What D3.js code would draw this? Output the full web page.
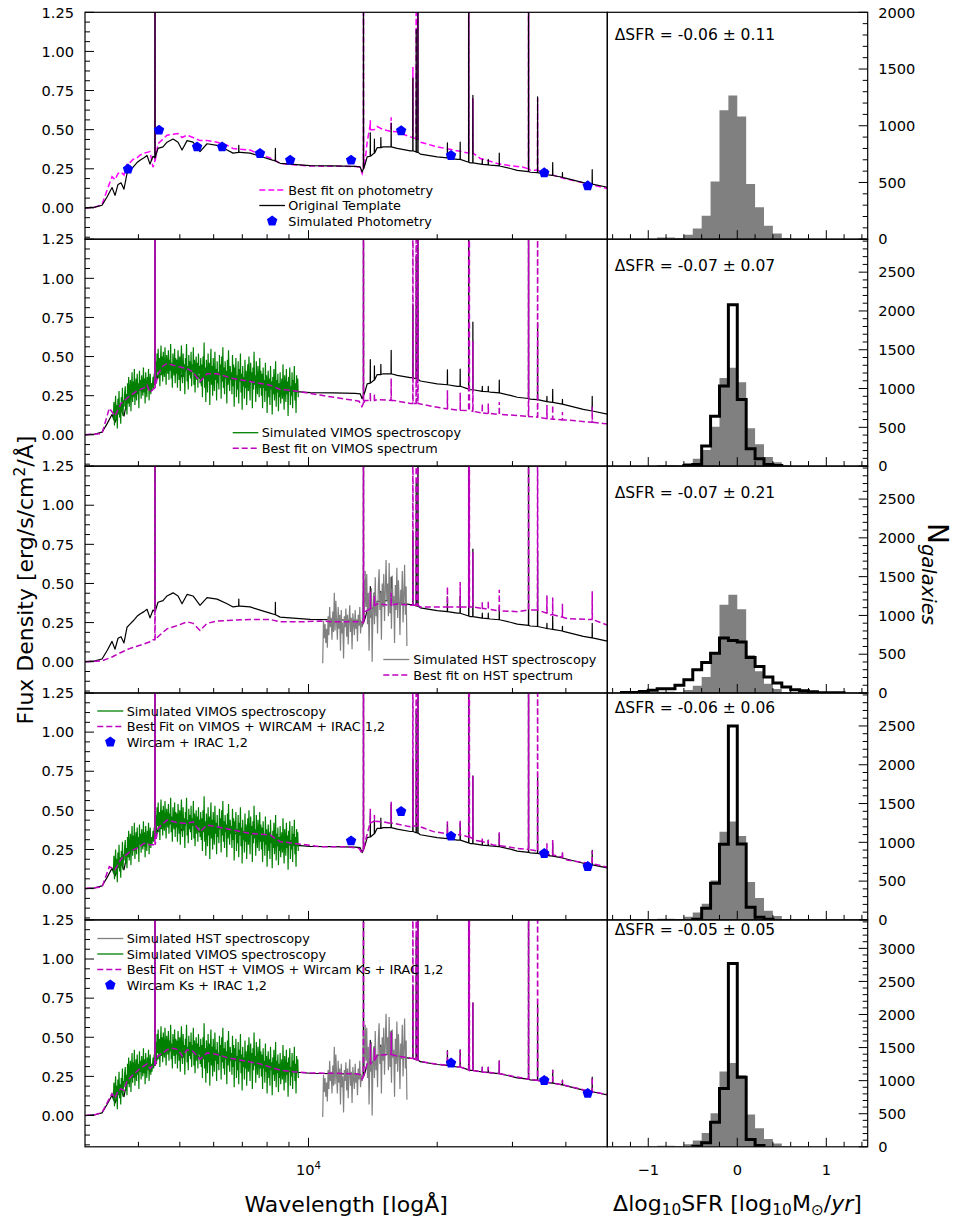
<!DOCTYPE html>
<html><head><meta charset="utf-8">
<script src="https://cdn.jsdelivr.net/npm/d3@7"></script>
<style>
body{margin:0;background:#fff}
svg{display:block}
text{font-family:"DejaVu Sans",sans-serif;fill:#000}
</style>
</head><body>
<svg id="c" width="954" height="1220"></svg>
<script>
// ---------------- DATA ----------------
const waveDomain = [3000, 50000];      // observed wavelength, Å (log axis)
const fluxDomain = [-0.2, 1.25];       // flux density
const sfrDomain = [-1.46, 1.465];      // Δlog10 SFR

const fluxTicks = [0, 0.25, 0.5, 0.75, 1.0, 1.25];
const fluxTickLabels = ["0.00", "0.25", "0.50", "0.75", "1.00", "1.25"];
const waveMajorTicks = [10000];
const waveMinorTicks = [4000, 5000, 6000, 7000, 8000, 9000, 20000, 30000, 40000];
const sfrMajorTicks = [-1, 0, 1];
const sfrMajorLabels = ["\u22121", "0", "1"];
const sfrMinorTicks = [-1.4, -1.2, -0.8, -0.6, -0.4, -0.2, 0.2, 0.4, 0.6, 0.8, 1.2, 1.4];

// original template: continuum [wavelength, flux] and emission lines [wavelength, base, peak]
const templateCont = [[3000,0.0],[3166,0.005],[3288,0.017],[3378,0.07],[3470,0.13],[3527,0.08],[3584,0.15],[3642,0.16],[3701,0.12],[3762,0.22],[3823,0.24],[3886,0.26],[3970,0.29],[4035,0.305],[4123,0.32],[4190,0.335],[4258,0.28],[4327,0.33],[4445,0.38],[4567,0.39],[4666,0.42],[4821,0.44],[4952,0.42],[5060,0.37],[5198,0.43],[5369,0.42],[5575,0.36],[5789,0.41],[6111,0.40],[6449,0.37],[6661,0.35],[6917,0.355],[7300,0.35],[7704,0.33],[8132,0.31],[8583,0.285],[9207,0.278],[10089,0.27],[11419,0.268],[12857,0.265],[13208,0.262],[13351,0.23],[13568,0.28],[13715,0.326],[13939,0.33],[14243,0.35],[14475,0.385],[14951,0.39],[15524,0.39],[16120,0.38],[17303,0.365],[18261,0.344],[20004,0.326],[22279,0.31],[23895,0.288],[26618,0.273],[29650,0.252],[30784,0.24],[33020,0.228],[36771,0.209],[39450,0.194],[43946,0.162],[50000,0.132]];
const templateLines = [[4374,0.32,3],[6869,0.355,0.40],[8366,0.30,0.38],[13446,0.25,3],[13950,0.33,0.48],[14262,0.35,0.44],[14766,0.385,0.45],[15609,0.39,0.54],[17548,0.365,0.83],[17862,0.357,1.14],[18030,0.355,3],[21133,0.32,0.415],[22637,0.31,0.42],[23706,0.292,3],[24240,0.288,0.72],[25500,0.278,0.31],[26335,0.275,0.31],[27942,0.268,0.35],[32718,0.232,3],[34350,0.225,0.71],[36120,0.212,0.245],[37260,0.207,0.29],[39270,0.196,0.226],[46100,0.152,0.245]];

// best fit on photometry
const fitPhotCont = [[3000,0.0],[3166,0.005],[3288,0.02],[3378,0.113],[3470,0.2],[3527,0.18],[3584,0.22],[3642,0.23],[3701,0.21],[3762,0.284],[3823,0.29],[3886,0.31],[3970,0.32],[4035,0.337],[4123,0.35],[4190,0.355],[4258,0.36],[4327,0.26],[4445,0.41],[4567,0.44],[4666,0.465],[4821,0.47],[4952,0.475],[5060,0.45],[5198,0.465],[5369,0.45],[5575,0.43],[5789,0.43],[6111,0.42],[6449,0.40],[6661,0.38],[6917,0.375],[7300,0.37],[7704,0.34],[8132,0.32],[8583,0.285],[9207,0.275],[10089,0.268],[11419,0.266],[12857,0.265],[13208,0.262],[13351,0.22],[13568,0.30],[13715,0.42],[13939,0.53],[14243,0.50],[14475,0.52],[14951,0.50],[15524,0.49],[16120,0.486],[17303,0.454],[18261,0.42],[20004,0.39],[23010,0.358],[25221,0.316],[27642,0.284],[29650,0.27],[31797,0.26],[33020,0.24],[36183,0.22],[39450,0.19],[43946,0.16],[50000,0.124]];
const fitPhotLines = [[4374,0.30,3],[13446,0.25,3],[13950,0.5,0.56],[15609,0.49,0.58],[17548,0.45,0.9],[17862,0.44,3],[18030,0.44,3],[23706,0.35,3],[24240,0.35,0.7],[32718,0.25,3],[34350,0.24,0.7]];

// best fit on VIMOS spectrum
const fitVimosCont = [[3000,0.0],[3288,0.008],[3420,0.17],[3527,0.12],[3642,0.2],[3823,0.25],[3970,0.28],[4123,0.30],[4190,0.317],[4258,0.27],[4327,0.29],[4445,0.39],[4567,0.44],[4666,0.456],[4821,0.445],[5060,0.43],[5198,0.424],[5369,0.40],[5575,0.34],[5789,0.39],[6111,0.39],[6661,0.36],[7300,0.34],[8132,0.317],[8583,0.29],[9207,0.282],[9561,0.275],[10647,0.254],[11860,0.233],[13130,0.215],[13330,0.18],[13568,0.22],[14475,0.225],[15804,0.22],[17303,0.2],[19608,0.18],[22637,0.157],[26150,0.136],[30180,0.125],[33600,0.115],[40260,0.094],[49020,0.072],[50000,0.07]];
const fitVimosLines = [[4374,0.3,3],[13446,0.2,3],[13950,0.22,0.27],[14262,0.22,0.26],[15609,0.22,0.36],[17548,0.2,3],[17862,0.2,3],[18030,0.2,3],[21133,0.165,0.285],[22637,0.157,0.27],[23706,0.155,3],[23780,0.155,3],[24240,0.15,0.6],[25500,0.14,0.2],[26335,0.138,0.2],[27942,0.13,0.21],[32718,0.117,3],[34350,0.112,3],[36120,0.103,0.19],[37260,0.1,0.19],[39270,0.095,0.145],[46100,0.08,0.18]];

// best fit on HST spectrum
const fitHstCont = [[3000,0.0],[3288,0.005],[3470,0.03],[3584,0.05],[3823,0.085],[4035,0.105],[4258,0.127],[4327,0.14],[4445,0.16],[4666,0.21],[4952,0.233],[5198,0.255],[5369,0.245],[5575,0.2],[5789,0.245],[6111,0.26],[6661,0.265],[7300,0.27],[8132,0.27],[8583,0.255],[9561,0.255],[10647,0.26],[11419,0.255],[13208,0.255],[13351,0.25],[13568,0.32],[14475,0.37],[15524,0.36],[16120,0.37],[17303,0.36],[18261,0.35],[21455,0.35],[25680,0.34],[28090,0.325],[30800,0.32],[33600,0.33],[36771,0.30],[40260,0.276],[44830,0.27],[50000,0.234]];
const fitHstLines = [[4374,0.14,3],[13446,0.25,3],[13950,0.34,0.45],[14262,0.36,0.42],[15609,0.36,0.44],[17548,0.36,3],[17862,0.36,3],[18030,0.36,3],[21133,0.35,0.48],[22637,0.35,0.51],[23706,0.35,3],[23780,0.35,3],[24240,0.35,0.7],[25500,0.34,0.38],[26335,0.335,0.39],[27942,0.325,0.46],[32718,0.33,3],[34350,0.33,3],[36120,0.31,0.425],[37260,0.30,0.41],[39270,0.285,0.37],[46100,0.27,0.45]];

// best fit on VIMOS + WIRCAM + IRAC 1,2
const fitVwiCont = [[3000,0.0],[3288,0.01],[3420,0.14],[3527,0.12],[3642,0.19],[3823,0.236],[4035,0.27],[4123,0.29],[4258,0.28],[4327,0.28],[4445,0.385],[4666,0.438],[4952,0.42],[5198,0.417],[5369,0.427],[5575,0.364],[5789,0.406],[6111,0.395],[6661,0.374],[7300,0.353],[8132,0.342],[8583,0.30],[9207,0.29],[10647,0.268],[12184,0.268],[13130,0.257],[13351,0.225],[13568,0.30],[14243,0.43],[14951,0.427],[15524,0.417],[17303,0.395],[19608,0.364],[21840,0.342],[24330,0.31],[27090,0.278],[30800,0.257],[34840,0.225],[40260,0.182],[50000,0.136]];
const fitVwiLines = [[4374,0.28,3],[13446,0.25,3],[13950,0.42,0.51],[14262,0.43,0.47],[15609,0.42,0.555],[17548,0.40,3],[17862,0.40,3],[18030,0.40,3],[21133,0.35,0.43],[22637,0.345,0.44],[23706,0.33,3],[23780,0.33,3],[24240,0.32,0.72],[25500,0.30,0.32],[26335,0.29,0.31],[27942,0.275,0.36],[32718,0.25,3],[34350,0.24,3],[36120,0.22,0.29],[37260,0.215,0.31],[39270,0.2,0.235],[46100,0.16,0.24]];

// best fit on HST + VIMOS + Wircam Ks + IRAC 1,2
const fitAllCont = [[3000,0.0],[3166,0.005],[3288,0.02],[3378,0.08],[3470,0.14],[3527,0.11],[3584,0.16],[3642,0.17],[3701,0.16],[3762,0.22],[3886,0.26],[4035,0.30],[4190,0.33],[4258,0.30],[4327,0.32],[4445,0.38],[4567,0.40],[4666,0.42],[4821,0.43],[4952,0.42],[5060,0.38],[5198,0.42],[5369,0.41],[5575,0.36],[5789,0.40],[6111,0.39],[6449,0.37],[6917,0.355],[7704,0.33],[8583,0.29],[9207,0.28],[10089,0.272],[11419,0.27],[12857,0.267],[13208,0.262],[13351,0.232],[13568,0.285],[13715,0.33],[14243,0.355],[14475,0.385],[15524,0.39],[16120,0.38],[17303,0.366],[18261,0.346],[20004,0.328],[22279,0.312],[23895,0.29],[26618,0.275],[29650,0.254],[33020,0.23],[36771,0.21],[39450,0.196],[43946,0.164],[50000,0.134]];
const fitAllLines = [[4374,0.32,3],[13446,0.25,3],[13950,0.33,0.46],[14262,0.35,0.43],[15609,0.39,0.53],[17548,0.365,3],[17862,0.357,3],[18030,0.355,3],[21133,0.32,0.41],[22637,0.31,0.42],[23706,0.292,3],[23780,0.29,3],[24240,0.288,0.72],[25500,0.278,0.31],[26335,0.275,0.31],[27942,0.268,0.35],[32718,0.232,3],[34350,0.225,3],[36120,0.212,0.245],[37260,0.207,0.29],[39270,0.196,0.226],[46100,0.152,0.245]];

// simulated VIMOS spectrum (log-even pixel grid between the two wavelengths)
const vimosRange = [3495, 9465];
const vimosFlux = [
0.10,0.21,0.06,0.17,0.25,0.09,0.19,0.04,0.23,0.13,0.28,0.11,0.20,0.07,0.24,0.15,0.30,0.12,0.22,0.18,0.27,
0.31,0.16,0.26,0.13,0.33,0.20,0.37,0.18,0.28,0.35,0.15,0.30,0.40,0.21,0.34,0.24,0.42,0.19,0.29,0.36,0.22,0.39,0.26,0.33,0.17,0.41,0.28,0.35,0.23,0.38,0.30,0.25,0.43,0.27,0.36,0.20,0.40,0.31,0.24,0.37,0.29,0.42,0.22,0.34,0.39,0.26,0.33,0.28,
0.32,0.37,0.30,0.39,0.35,0.41,
0.47,0.33,0.52,0.40,0.55,0.36,0.49,0.31,0.46,0.57,0.38,0.50,0.34,0.53,0.42,0.37,0.56,0.44,0.32,0.51,0.45,0.39,0.54,0.35,0.48,0.41,0.58,0.36,0.46,0.30,0.52,0.43,0.38,0.55,0.33,0.49,
0.39,0.48,0.30,0.54,0.43,0.35,0.50,0.28,0.46,0.57,0.40,0.33,0.52,0.37,0.45,0.26,0.49,0.42,0.58,0.34,0.44,0.29,0.51,0.38,0.47,0.36,0.53,0.31,0.45,0.40,0.56,0.32,0.48,0.27,0.43,0.50,0.35,0.46,0.30,0.52,0.39,0.44,0.33,0.49,
0.31,0.45,0.24,0.50,0.36,0.59,0.30,0.43,0.21,0.48,0.39,0.27,0.52,0.34,0.46,0.19,0.41,0.55,0.32,0.44,0.25,0.49,0.37,0.28,0.53,0.35,0.42,0.22,0.47,0.33,0.40,0.29,0.51,0.38,0.45,0.23,0.50,0.34,0.56,0.30,0.43,0.26,0.47,0.36,0.41,0.20,0.48,0.32,0.54,0.37,0.28,0.44,0.35,
0.40,0.26,0.51,0.31,0.45,0.18,0.43,0.36,0.49,0.24,0.38,0.29,0.47,0.20,0.42,0.34,0.52,0.27,0.39,0.16,0.44,0.31,0.37,0.23,0.48,0.30,0.41,0.19,0.36,0.45,0.28,0.50,0.33,0.22,0.46,0.35,0.40,0.17,0.43,0.29,0.53,0.32,0.38,0.21,0.47,0.34,0.26,0.44,0.37,0.24,0.49,0.30,0.41,
0.25,0.39,0.17,0.43,0.30,0.35,0.21,0.46,0.28,0.38,0.14,0.33,0.41,0.24,0.36,0.19,0.44,0.29,0.34,0.13,0.37,0.26,0.42,0.22,0.31,0.47,0.18,0.35,0.27,0.39,0.15,0.33,0.24,0.40,0.20,0.30,0.36,0.23,0.45,0.28,0.16,0.38,0.32,0.21,0.42,0.26,0.34,0.12,0.37,0.29,0.43,0.19,0.31,0.25,0.40,0.17,0.35,0.28,0.44,0.22,0.33,0.14,0.38,0.27,0.36,0.24];

// simulated HST grism spectrum
const hstRange = [10795, 16990];
const hstFlux = [
-0.01,0.26,0.15,0.24,0.12,0.21,0.09,0.29,0.17,0.35,0.22,0.28,0.14,0.32,0.19,0.44,0.20,0.39,0.25,0.14,0.35,0.21,0.30,0.07,0.33,0.18,0.25,0.02,0.29,0.22,0.34,0.16,0.30,0.11,0.26,0.36,0.19,0.28,0.08,0.31,0.24,0.17,0.33,0.21,0.27,0.13,0.30,0.23,0.35,0.18,0.26,0.22,
0.38,0.52,0.30,0.58,0.35,0.56,0.24,0.44,0.07,0.35,0.28,0.47,0.00,0.33,0.44,0.24,0.54,0.29,0.39,0.18,0.48,0.59,0.33,0.44,0.14,0.50,0.35,0.56,0.26,0.45,0.65,0.39,0.50,0.29,0.63,0.31,0.47,0.21,0.55,0.37,0.42,0.12,0.49,0.33,0.60,0.28,0.52,0.40,0.17,0.46,0.36,0.58,0.25,0.43,0.62,0.30,0.48,0.10];

// simulated photometry
const photBands = ["u","B","V","r","i","z","J","H","Ks","IRAC1","IRAC2"];
const photWave = [3782, 4470, 5487, 6280, 7700, 9060, 12577, 16470, 21550, 35600, 45000];
const photFlux = [0.248, 0.497, 0.39, 0.39, 0.348, 0.305, 0.305, 0.493, 0.335, 0.224, 0.141];

// ΔSFR histograms (bin width 0.1)
const histBinWidth = 0.1;
const grayStart = -0.9;
const grayCounts = [15,15,10,40,95,207,508,1137,1267,1081,487,281,118,50,10];
const black2Start = -0.6, black2 = [8,20,258,644,1031,2079,859,223,95,21,8];
const black3Start = -1.3, black3 = [8,8,20,35,55,55,99,172,300,394,514,708,678,656,459,343,206,129,77,43,30,17,4,3,2];
const black4Start = -0.5, black4 = [8,150,473,975,2500,980,163,34,9];
const black5Start = -0.5, black5 = [10,60,373,882,2772,1053,111,20];
const histMax = [2000, 2925, 2925, 2925, 3430];
const histTickLabelsMax = [2000, 2500, 2500, 2500, 3000];
const sfrLabels = ["\u0394SFR = -0.06 \u00b1 0.11","\u0394SFR = -0.07 \u00b1 0.07","\u0394SFR = -0.07 \u00b1 0.21","\u0394SFR = -0.06 \u00b1 0.06","\u0394SFR = -0.05 \u00b1 0.05"];

// ---------------- LAYOUT ----------------
const L = 85, M = 607.3, R = 867.7, TOP = 12.3, PH = 226.9;
const svg = d3.select("#c");
const x = d3.scaleLog().domain(waveDomain).range([L, M]);
const y = d3.scaleLinear().domain(fluxDomain).range([PH, 0]);
const xh = d3.scaleLinear().domain(sfrDomain).range([M, R]);
const line = d3.line().x(d => x(d[0])).y(d => y(d[1]));

const COL = {tmpl:"#000", vimos:"#008000", hst:"#808080", phot:"#0000ff"};

function spectrum(cont, lines) {
  const pts = cont.map(d => [d[0], d[1]]);
  lines.forEach(([w, b, p]) => { pts.push([w * 0.9993, b], [w, p], [w * 1.0007, b]); });
  pts.sort((a, b) => a[0] - b[0]);
  return pts;
}
function grid(range, vals) {
  const l0 = Math.log(range[0]), l1 = Math.log(range[1]);
  return vals.map((f, i) => [Math.exp(l0 + (l1 - l0) * i / (vals.length - 1)), f]);
}
function stepPts(start, counts) {
  const pts = [[start, 0]];
  counts.forEach((c, i) => {
    const lo = start + i * histBinWidth, hi = lo + histBinWidth;
    pts.push([lo, c], [hi, c]);
  });
  pts.push([start + counts.length * histBinWidth, 0]);
  return pts;
}
const pentagon = {
  draw(ctx, size) {
    const r = Math.sqrt(size);
    for (let k = 0; k < 5; k++) {
      const a = -Math.PI / 2 + k * 2 * Math.PI / 5;
      const px = r * Math.cos(a), py = r * Math.sin(a);
      if (k) ctx.lineTo(px, py); else ctx.moveTo(px, py);
    }
    ctx.closePath();
  }
};
const penPath = d3.symbol().type(pentagon).size(30)();

const tmplPts = spectrum(templateCont, templateLines);
const vimosPts = grid(vimosRange, vimosFlux);
const hstPts = grid(hstRange, hstFlux);

const panels = [
  {fit: spectrum(fitPhotCont, fitPhotLines), fitColor: "#ff00ff", layers: ["fit","tmpl","phot"], phot: [0, 11],
   black: null,
   legend: {x0: 259.3, x1: 285, tx: 288.3, y0: 190, items: [["fit","Best fit on photometry"],["tmpl","Original Template"],["phot","Simulated Photometry"]]}},
  {fit: spectrum(fitVimosCont, fitVimosLines), fitColor: "#bf00bf", layers: ["tmpl","vimos","fit"], phot: null,
   black: [black2Start, black2],
   legend: {x0: 232.7, x1: 258.3, tx: 261.7, y0: 432.7, items: [["vimos","Simulated VIMOS spectroscopy"],["fit","Best fit on VIMOS spectrum"]]}},
  {fit: spectrum(fitHstCont, fitHstLines), fitColor: "#bf00bf", layers: ["tmpl","hst","fit"], phot: null,
   black: [black3Start, black3],
   legend: {x0: 383.3, x1: 409.3, tx: 413.3, y0: 659.5, items: [["hst","Simulated HST spectroscopy"],["fit","Best fit on HST spectrum"]]}},
  {fit: spectrum(fitVwiCont, fitVwiLines), fitColor: "#bf00bf", layers: ["tmpl","vimos","fit","phot"], phot: [6, 11],
   black: [black4Start, black4],
   legend: {x0: 97.3, x1: 123.3, tx: 126.7, y0: 711, items: [["vimos","Simulated VIMOS spectroscopy"],["fit","Best Fit on VIMOS + WIRCAM + IRAC 1,2"],["phot","Wircam + IRAC 1,2"]]}},
  {fit: spectrum(fitAllCont, fitAllLines), fitColor: "#bf00bf", layers: ["tmpl","hst","vimos","fit","phot"], phot: [8, 11],
   black: [black5Start, black5],
   legend: {x0: 97.3, x1: 123.3, tx: 126.7, y0: 938.5, items: [["hst","Simulated HST spectroscopy"],["vimos","Simulated VIMOS spectroscopy"],["fit","Best Fit on HST + VIMOS + Wircam Ks + IRAC 1,2"],["phot","Wircam Ks + IRAC 1,2"]]}}
];
const sfrTextOffset = [22, 25.8, 26.2, 14.2, 9.3];

const defs = svg.append("defs");
defs.append("clipPath").attr("id", "clipL").append("rect").attr("x", L).attr("y", 0).attr("width", M - L).attr("height", PH);
defs.append("clipPath").attr("id", "clipR").append("rect").attr("x", M).attr("y", 0).attr("width", R - M).attr("height", PH);

const TICK_FS = 14.6;

panels.forEach((p, i) => {
  const g = svg.append("g").attr("transform", `translate(0,${TOP + i * PH})`);
  const gl = g.append("g").attr("clip-path", "url(#clipL)");
  const fitColor = p.fitColor;
  p.layers.forEach(layer => {
    if (layer === "tmpl") gl.append("path").attr("d", line(tmplPts)).attr("fill", "none").attr("stroke", COL.tmpl).attr("stroke-width", 1.2).attr("stroke-linejoin", "round");
    if (layer === "vimos") gl.append("path").attr("d", line(vimosPts)).attr("fill", "none").attr("stroke", COL.vimos).attr("stroke-width", 1.2);
    if (layer === "hst") gl.append("path").attr("d", line(hstPts)).attr("fill", "none").attr("stroke", COL.hst).attr("stroke-width", 1.2);
    if (layer === "fit") gl.append("path").attr("d", line(p.fit)).attr("fill", "none").attr("stroke", fitColor).attr("stroke-width", 1.5).attr("stroke-dasharray", "6,3");
    if (layer === "phot") {
      d3.range(p.phot[0], p.phot[1]).forEach(k => {
        gl.append("path").attr("d", penPath).attr("fill", COL.phot)
          .attr("transform", `translate(${x(photWave[k])},${y(photFlux[k])})`);
      });
    }
  });

  // left axis ticks
  const minorFlux = d3.range(-0.1875, 1.25, 0.0625).filter(v => Math.abs(v / 0.25 - Math.round(v / 0.25)) > 1e-6);
  minorFlux.forEach(v => g.append("line").attr("x1", L).attr("x2", L + 5).attr("y1", y(v)).attr("y2", y(v)).attr("stroke", "#000").attr("stroke-width", 1));
  fluxTicks.forEach((v, k) => {
    g.append("line").attr("x1", L).attr("x2", L + 9).attr("y1", y(v)).attr("y2", y(v)).attr("stroke", "#000").attr("stroke-width", 1);
    g.append("text").attr("x", L - 11).attr("y", y(v)).attr("dy", "0.36em").attr("text-anchor", "end").attr("font-size", TICK_FS).text(fluxTickLabels[k]);
  });
  // bottom wavelength ticks
  waveMinorTicks.forEach(v => g.append("line").attr("x1", x(v)).attr("x2", x(v)).attr("y1", PH).attr("y2", PH - 5).attr("stroke", "#000").attr("stroke-width", 1));
  waveMajorTicks.forEach(v => g.append("line").attr("x1", x(v)).attr("x2", x(v)).attr("y1", PH).attr("y2", PH - 9).attr("stroke", "#000").attr("stroke-width", 1));
  if (i === 4) {
    waveMajorTicks.forEach(v => {
      const t = g.append("text").attr("x", x(v)).attr("y", PH + 28.3).attr("text-anchor", "middle").attr("font-size", TICK_FS);
      t.append("tspan").text("10");
      t.append("tspan").attr("font-size", 10.2).attr("dy", -6).text("4");
    });
  }

  // histogram
  const yh = d3.scaleLinear().domain([0, histMax[i]]).range([PH, 0]);
  const hl = d3.line().x(d => xh(d[0])).y(d => yh(d[1]));
  const gr = g.append("g").attr("clip-path", "url(#clipR)");
  gr.append("path").attr("d", hl(stepPts(grayStart, grayCounts)) + "Z").attr("fill", "#808080").attr("stroke", "none");
  if (p.black) gr.append("path").attr("d", hl(stepPts(p.black[0], p.black[1]))).attr("fill", "none").attr("stroke", "#000").attr("stroke-width", 3).attr("stroke-linejoin", "miter");

  // histogram y ticks (right side, inward)
  d3.range(100, histMax[i], 100).filter(v => v % 500 !== 0).forEach(v =>
    g.append("line").attr("x1", R - 5).attr("x2", R).attr("y1", yh(v)).attr("y2", yh(v)).attr("stroke", "#000").attr("stroke-width", 1));
  d3.range(0, histTickLabelsMax[i] + 1, 500).forEach(v => {
    g.append("line").attr("x1", R - 9).attr("x2", R).attr("y1", yh(v)).attr("y2", yh(v)).attr("stroke", "#000").attr("stroke-width", 1);
    g.append("text").attr("x", R + 10.5).attr("y", yh(v)).attr("dy", "0.36em").attr("font-size", TICK_FS).text(v);
  });
  // histogram x ticks
  sfrMinorTicks.forEach(v => g.append("line").attr("x1", xh(v)).attr("x2", xh(v)).attr("y1", PH).attr("y2", PH - 5).attr("stroke", "#000").attr("stroke-width", 1));
  sfrMajorTicks.forEach((v, k) => {
    g.append("line").attr("x1", xh(v)).attr("x2", xh(v)).attr("y1", PH).attr("y2", PH - 9).attr("stroke", "#000").attr("stroke-width", 1);
    if (i === 4) g.append("text").attr("x", xh(v)).attr("y", PH + 28.3).attr("text-anchor", "middle").attr("font-size", TICK_FS).text(sfrMajorLabels[k]);
  });
  g.append("text").attr("x", 614.7).attr("y", sfrTextOffset[i]).attr("dy", "0.36em").attr("font-size", 15.5).text(sfrLabels[i]);

  // frames
  g.append("rect").attr("x", L).attr("y", 0).attr("width", M - L).attr("height", PH).attr("fill", "none").attr("stroke", "#000").attr("stroke-width", 1.2);
  g.append("rect").attr("x", M).attr("y", 0).attr("width", R - M).attr("height", PH).attr("fill", "none").attr("stroke", "#000").attr("stroke-width", 1.2);

  // legend (absolute coordinates)
  const lg = p.legend;
  lg.items.forEach(([type, label], k) => {
    const yy = lg.y0 + k * 15.5 - (TOP + i * PH);
    if (type === "phot") {
      g.append("path").attr("d", penPath).attr("fill", COL.phot).attr("transform", `translate(${(lg.x0 + lg.x1) / 2},${yy})`);
    } else {
      const ln = g.append("line").attr("x1", lg.x0).attr("x2", lg.x1).attr("y1", yy).attr("y2", yy);
      if (type === "fit") ln.attr("stroke", fitColor).attr("stroke-width", 1.5).attr("stroke-dasharray", "6,3");
      else ln.attr("stroke", COL[type]).attr("stroke-width", 1.3);
    }
    g.append("text").attr("x", lg.tx).attr("y", yy).attr("dy", "0.36em").attr("font-size", 12.8).attr("fill", "#222").text(label);
  });
});

// axis labels
const ylab = svg.append("text").attr("transform", "translate(33,580) rotate(-90)").attr("text-anchor", "middle").attr("font-size", 22);
ylab.append("tspan").text("Flux Density [erg/s/cm");
ylab.append("tspan").attr("font-size", 15.4).attr("dy", -8).text("2");
ylab.append("tspan").attr("dy", 8).text("/\u00c5]");

svg.append("text").attr("x", (L + M) / 2).attr("y", 1211.5).attr("text-anchor", "middle").attr("font-size", 22).text("Wavelength [log\u00c5]");

const xl = svg.append("text").attr("x", (M + R) / 2).attr("y", 1210.5).attr("text-anchor", "middle").attr("font-size", 22);
xl.append("tspan").text("\u0394log");
xl.append("tspan").attr("font-size", 15.4).attr("dy", 4).text("10");
xl.append("tspan").attr("dy", -4).text("SFR [log");
xl.append("tspan").attr("font-size", 15.4).attr("dy", 4).text("10");
xl.append("tspan").attr("dy", -4).text("M");
xl.append("tspan").attr("font-size", 15.4).attr("dy", 4).text("\u2299");
xl.append("tspan").attr("dy", -4).text("/");
xl.append("tspan").attr("font-style", "italic").text("yr");
xl.append("tspan").text("]");

const nl = svg.append("text").attr("transform", "translate(928,574) rotate(90)").attr("text-anchor", "middle").attr("font-size", 28);
nl.append("tspan").text("N");
nl.append("tspan").attr("font-size", 19.6).attr("font-style", "italic").attr("dy", 6).text("galaxies");
</script>
</body></html>
